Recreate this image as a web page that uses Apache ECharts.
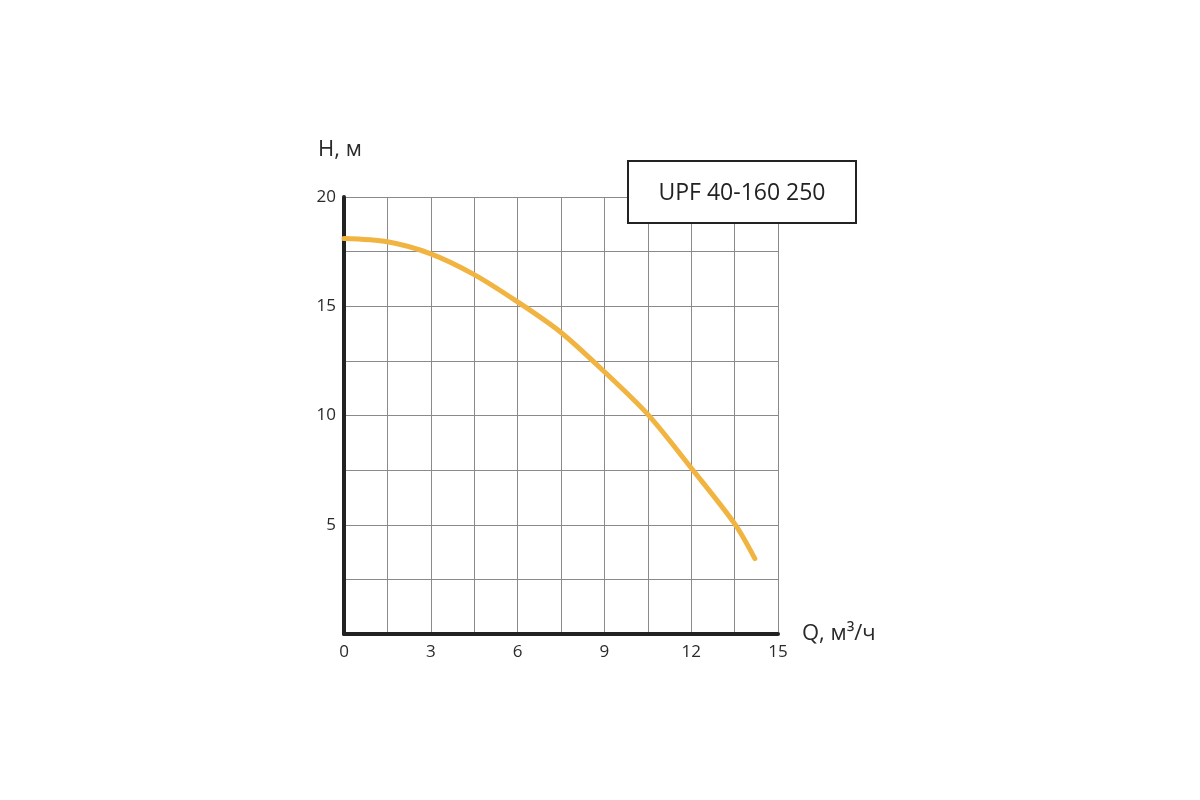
<!DOCTYPE html>
<html>
<head>
<meta charset="utf-8">
<script src="https://cdn.jsdelivr.net/npm/echarts@6/dist/echarts.min.js"></script>
<style>
  html, body { margin: 0; padding: 0; background: #fff; }
  #chart { width: 1200px; height: 800px; }
</style>
</head>
<body>
<div id="chart"></div>
<script>
// pump curve UPF 40-160 250: flow Q (m3/h) vs head H (m)
const flowQ = [0, 1.5, 3, 4.5, 6, 7.5, 9, 10.5, 12, 13.5, 14.2]
const headH = [18.1, 17.95, 17.4, 16.45, 15.2, 13.8, 12.0, 10.05, 7.6, 5.05, 3.45]
const xLabels = [0, 3, 6, 9, 12, 15]
const yLabels = [5, 10, 15, 20]
const modelName = 'UPF 40-160 250'

const font = '"Open Sans", "Noto Sans", sans-serif'
const chart = echarts.init(document.getElementById('chart'))

const option = {
  backgroundColor: '#fff',
  animation: false,
  grid: { left: 344, right: 422, top: 197, bottom: 166 },
  xAxis: {
    type: 'value',
    min: 0,
    max: 15,
    interval: 1.5,
    name: 'Q, м³/ч',
    nameLocation: 'end',
    nameGap: 24,
    nameTextStyle: { fontFamily: font, fontSize: 22, color: '#2a2a2a' },
    axisLine: { show: true, onZero: false, lineStyle: { color: '#222', width: 4 } },
    axisTick: { show: false },
    axisLabel: {
      margin: 10,
      fontFamily: font,
      fontSize: 17,
      color: '#2a2a2a',
      showMaxLabel: true,
      formatter: v => xLabels.includes(Math.round(v * 10) / 10) ? String(Math.round(v)) : ''
    },
    splitLine: { show: true, lineStyle: { color: '#8a8a8a', width: 1 } }
  },
  yAxis: {
    type: 'value',
    min: 0,
    max: 20,
    interval: 2.5,
    name: 'H, м',
    nameLocation: 'end',
    nameGap: 36,
    nameTextStyle: { fontFamily: font, fontSize: 22, color: '#2a2a2a', align: 'center', padding: [0, 8, 0, 0] },
    axisLine: { show: true, onZero: false, lineStyle: { color: '#222', width: 4 } },
    axisTick: { show: false },
    axisLabel: {
      margin: 8,
      fontFamily: font,
      fontSize: 17,
      color: '#2a2a2a',
      formatter: v => yLabels.includes(v) ? String(v) : ''
    },
    splitLine: { show: true, lineStyle: { color: '#8a8a8a', width: 1 } }
  },
  graphic: [{
    type: 'group',
    left: 627,
    top: 160,
    z: 100,
    children: [
      {
        type: 'rect',
        z: 100,
        shape: { x: 0, y: 0, width: 228, height: 62 },
        style: { fill: '#fff', stroke: '#222', lineWidth: 2 }
      },
      {
        type: 'text',
        z: 101,
        x: 114,
        y: 32,
        style: {
          text: modelName,
          fontFamily: font,
          fontSize: 23,
          fill: '#222',
          align: 'center',
          verticalAlign: 'middle'
        }
      }
    ]
  }],
  series: [{
    type: 'line',
    data: flowQ.map((q, i) => [q, headH[i]]),
    smooth: 0.3,
    showSymbol: false,
    lineStyle: { color: '#f2b440', width: 5, cap: 'round' }
  }]
}
chart.setOption(option)
</script>
</body>
</html>
